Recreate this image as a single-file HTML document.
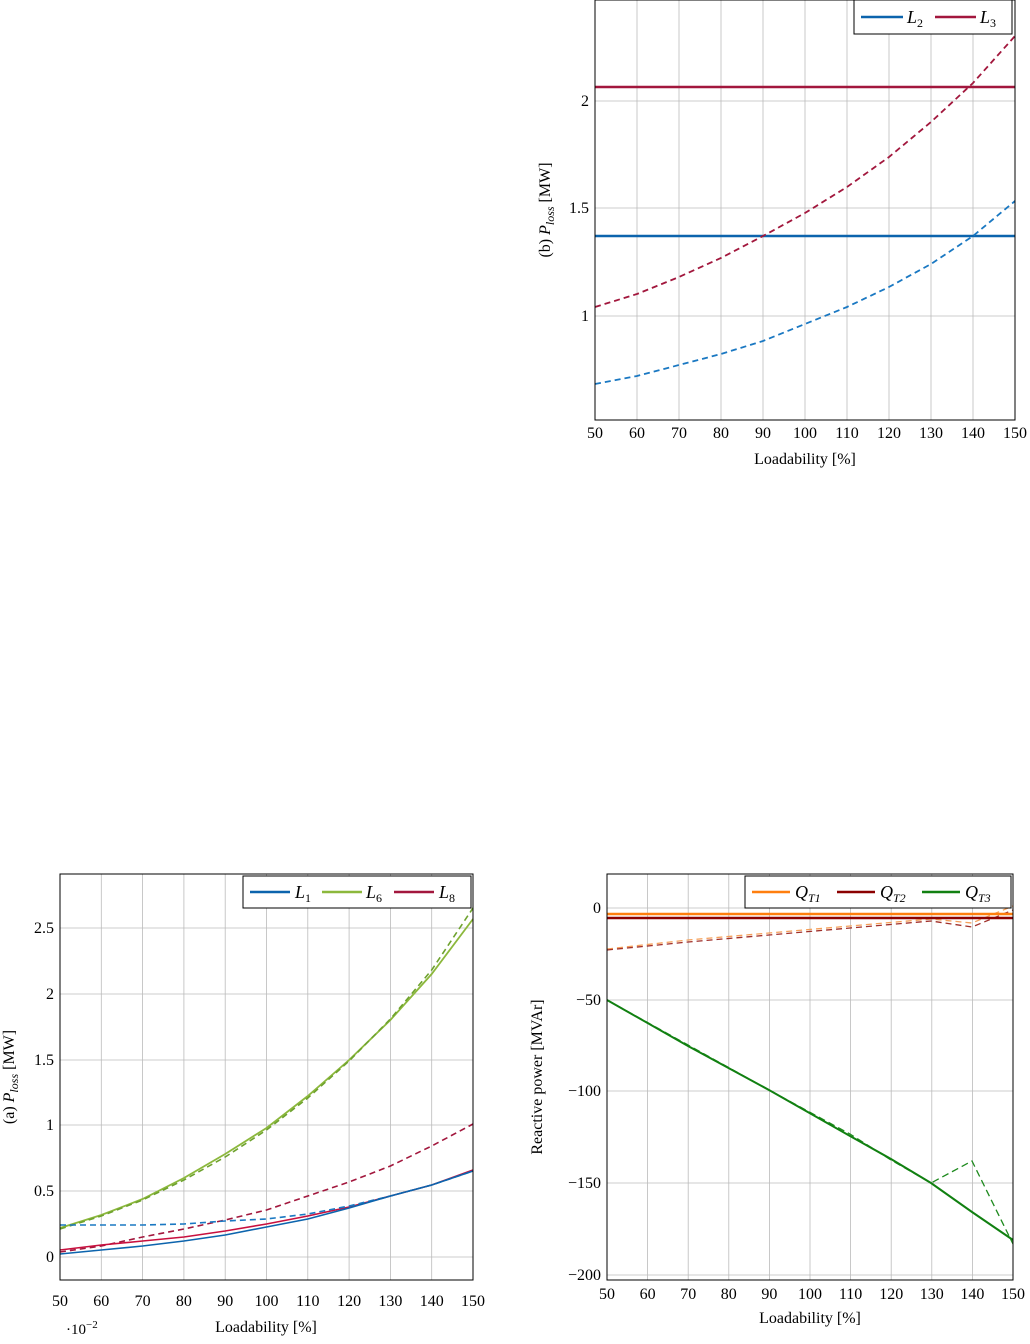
<!DOCTYPE html>
<html><head><meta charset="utf-8"><style>
body{margin:0;background:#fff;}
svg text{font-family:"Liberation Serif",serif;fill:#000;}
</style></head><body>
<svg width="1030" height="1339" viewBox="0 0 1030 1339" xmlns="http://www.w3.org/2000/svg">
<!-- Chart b -->
<g>
<g stroke="#bbb" stroke-width="0.8">
<line x1="637" y1="0" x2="637" y2="420"/><line x1="679" y1="0" x2="679" y2="420"/><line x1="721" y1="0" x2="721" y2="420"/><line x1="763" y1="0" x2="763" y2="420"/><line x1="805" y1="0" x2="805" y2="420"/><line x1="847" y1="0" x2="847" y2="420"/><line x1="889" y1="0" x2="889" y2="420"/><line x1="931" y1="0" x2="931" y2="420"/><line x1="973" y1="0" x2="973" y2="420"/>
<line x1="595" y1="316" x2="1015" y2="316"/><line x1="595" y1="208" x2="1015" y2="208"/><line x1="595" y1="101" x2="1015" y2="101"/>
</g>
<line x1="595" y1="87" x2="1015" y2="87" stroke="#a2173d" stroke-width="2.5"/>
<line x1="595" y1="236" x2="1015" y2="236" stroke="#0c64ad" stroke-width="2.5"/>
<polyline fill="none" stroke="#a2173d" stroke-width="1.8" stroke-dasharray="6,4" points="595,307 637,294 679,277 721,258 763,236 805,213 847,187 889,157 931,122 973,83 1015,36"/>
<polyline fill="none" stroke="#1a78c2" stroke-width="1.8" stroke-dasharray="6,4" points="595,384 637,376 679,365 721,354 763,341 805,324 847,307 889,287 931,264 973,236 1015,201"/>
<rect x="595" y="0" width="420" height="420" fill="none" stroke="#000" stroke-width="1"/>
<g font-size="16" text-anchor="middle">
<text x="595" y="438">50</text><text x="637" y="438">60</text><text x="679" y="438">70</text><text x="721" y="438">80</text><text x="763" y="438">90</text><text x="805" y="438">100</text><text x="847" y="438">110</text><text x="889" y="438">120</text><text x="931" y="438">130</text><text x="973" y="438">140</text><text x="1015" y="438">150</text>
<text x="805" y="464">Loadability [%]</text>
</g>
<g font-size="16" text-anchor="end"><text x="589" y="321">1</text><text x="589" y="213">1.5</text><text x="589" y="106">2</text></g>
<text transform="translate(550,210) rotate(-90)" font-size="16" text-anchor="middle">(b) <tspan font-style="italic">P</tspan><tspan font-style="italic" font-size="12" dy="4">loss</tspan><tspan dy="-4"> [MW]</tspan></text>
<rect x="854" y="0" width="158" height="34" fill="#fff" stroke="#000"/>
<line x1="861" y1="17" x2="903" y2="17" stroke="#0c64ad" stroke-width="2.5"/>
<text x="907" y="23" font-size="18" font-style="italic">L<tspan font-size="12" font-style="normal" dy="4">2</tspan></text>
<line x1="935" y1="17" x2="976" y2="17" stroke="#a2173d" stroke-width="2.5"/>
<text x="980" y="23" font-size="18" font-style="italic">L<tspan font-size="12" font-style="normal" dy="4">3</tspan></text>
</g>

<!-- Chart a -->
<g>
<g stroke="#bbb" stroke-width="0.8">
<line x1="101.3" y1="874" x2="101.3" y2="1280"/><line x1="142.6" y1="874" x2="142.6" y2="1280"/><line x1="183.9" y1="874" x2="183.9" y2="1280"/><line x1="225.2" y1="874" x2="225.2" y2="1280"/><line x1="266.5" y1="874" x2="266.5" y2="1280"/><line x1="307.8" y1="874" x2="307.8" y2="1280"/><line x1="349.1" y1="874" x2="349.1" y2="1280"/><line x1="390.4" y1="874" x2="390.4" y2="1280"/><line x1="431.7" y1="874" x2="431.7" y2="1280"/>
<line x1="60" y1="1257" x2="473" y2="1257"/><line x1="60" y1="1191" x2="473" y2="1191"/><line x1="60" y1="1125" x2="473" y2="1125"/><line x1="60" y1="1060" x2="473" y2="1060"/><line x1="60" y1="994" x2="473" y2="994"/><line x1="60" y1="928" x2="473" y2="928"/>
</g>
<polyline fill="none" stroke="#8cb83c" stroke-width="1.8" points="60,1228 101.3,1215 142.6,1199 183.9,1178 225.2,1154 266.5,1128 307.8,1096 349.1,1060 390.4,1020 431.7,974 473,919"/>
<polyline fill="none" stroke="#6ea22e" stroke-width="1.6" stroke-dasharray="6,4" points="60,1229 101.3,1216 142.6,1200 183.9,1180 225.2,1157 266.5,1130 307.8,1098 349.1,1061 390.4,1019 431.7,970 473,908"/>
<polyline fill="none" stroke="#a2173d" stroke-width="1.6" stroke-dasharray="6,4" points="60,1252 101.3,1246 142.6,1237 183.9,1229 225.2,1220 266.5,1210 307.8,1196 349.1,1182 390.4,1166 431.7,1146 473,1124"/>
<polyline fill="none" stroke="#c8103e" stroke-width="1.6" points="60,1250 101.3,1245 142.6,1241 183.9,1237 225.2,1231 266.5,1224 307.8,1216 349.1,1207 390.4,1196 431.7,1185 473,1170"/>
<polyline fill="none" stroke="#1a78c2" stroke-width="1.6" stroke-dasharray="6,4" points="60,1225 101.3,1225 142.6,1225 183.9,1224 225.2,1221 266.5,1219 307.8,1214 349.1,1206 390.4,1196 431.7,1185 473,1171"/>
<polyline fill="none" stroke="#0c64ad" stroke-width="1.6" points="60,1254 101.3,1250 142.6,1246 183.9,1241 225.2,1235 266.5,1227 307.8,1219 349.1,1208 390.4,1196 431.7,1185 473,1171"/>
<rect x="60" y="874" width="413" height="406" fill="none" stroke="#000"/>
<g font-size="16" text-anchor="middle">
<text x="60" y="1306">50</text><text x="101.3" y="1306">60</text><text x="142.6" y="1306">70</text><text x="183.9" y="1306">80</text><text x="225.2" y="1306">90</text><text x="266.5" y="1306">100</text><text x="307.8" y="1306">110</text><text x="349.1" y="1306">120</text><text x="390.4" y="1306">130</text><text x="431.7" y="1306">140</text><text x="473" y="1306">150</text>
<text x="266" y="1332">Loadability [%]</text>
</g>
<text x="66" y="1334" font-size="15">·10<tspan font-size="11" dy="-6">−2</tspan></text>
<g font-size="16" text-anchor="end"><text x="54" y="1262">0</text><text x="54" y="1196">0.5</text><text x="54" y="1130">1</text><text x="54" y="1065">1.5</text><text x="54" y="999">2</text><text x="54" y="933">2.5</text></g>
<text transform="translate(14,1077) rotate(-90)" font-size="16" text-anchor="middle">(a) <tspan font-style="italic">P</tspan><tspan font-style="italic" font-size="12" dy="4">loss</tspan><tspan dy="-4"> [MW]</tspan></text>
<rect x="243" y="876" width="228" height="32" fill="#fff" stroke="#000"/>
<line x1="250" y1="892" x2="290" y2="892" stroke="#0c64ad" stroke-width="2.5"/>
<text x="295" y="898" font-size="18" font-style="italic">L<tspan font-size="12" font-style="normal" dy="4">1</tspan></text>
<line x1="322" y1="892" x2="362" y2="892" stroke="#8cb83c" stroke-width="2.5"/>
<text x="366" y="898" font-size="18" font-style="italic">L<tspan font-size="12" font-style="normal" dy="4">6</tspan></text>
<line x1="394" y1="892" x2="434" y2="892" stroke="#a2173d" stroke-width="2.5"/>
<text x="439" y="898" font-size="18" font-style="italic">L<tspan font-size="12" font-style="normal" dy="4">8</tspan></text>
</g>

<!-- Chart c -->
<g>
<g stroke="#bbb" stroke-width="0.8">
<line x1="647.6" y1="874" x2="647.6" y2="1280"/><line x1="688.2" y1="874" x2="688.2" y2="1280"/><line x1="728.8" y1="874" x2="728.8" y2="1280"/><line x1="769.4" y1="874" x2="769.4" y2="1280"/><line x1="810" y1="874" x2="810" y2="1280"/><line x1="850.6" y1="874" x2="850.6" y2="1280"/><line x1="891.2" y1="874" x2="891.2" y2="1280"/><line x1="931.8" y1="874" x2="931.8" y2="1280"/><line x1="972.4" y1="874" x2="972.4" y2="1280"/>
<line x1="607" y1="908" x2="1013" y2="908"/><line x1="607" y1="1000" x2="1013" y2="1000"/><line x1="607" y1="1091" x2="1013" y2="1091"/><line x1="607" y1="1183" x2="1013" y2="1183"/><line x1="607" y1="1275" x2="1013" y2="1275"/>
</g>
<polyline fill="none" stroke="#f5a05a" stroke-width="1.3" stroke-dasharray="6,4" points="607,949 688,940 769,933 850,926 931,919 972,923 1013,906"/>
<polyline fill="none" stroke="#a0302a" stroke-width="1.3" stroke-dasharray="6,4" points="607,950 688,942 769,935 850,928 931,921 972,927 1013,910"/>
<line x1="607" y1="914" x2="1013" y2="914" stroke="#ff7f0e" stroke-width="2.5"/>
<line x1="607" y1="918" x2="1013" y2="918" stroke="#8b0000" stroke-width="2.5"/>
<polyline fill="none" stroke="#1e8a1e" stroke-width="1.3" stroke-dasharray="7,4" points="607,1000 688,1045 769,1090 850,1134 891,1160 931,1183 972,1161 1013,1244"/>
<polyline fill="none" stroke="#118011" stroke-width="2" points="607,1000 688,1046 769,1090 850,1136 891,1159 931,1183 972,1212 1013,1240"/>
<rect x="607" y="874" width="406" height="406" fill="none" stroke="#000"/>
<g font-size="16" text-anchor="middle">
<text x="607" y="1299">50</text><text x="647.6" y="1299">60</text><text x="688.2" y="1299">70</text><text x="728.8" y="1299">80</text><text x="769.4" y="1299">90</text><text x="810" y="1299">100</text><text x="850.6" y="1299">110</text><text x="891.2" y="1299">120</text><text x="931.8" y="1299">130</text><text x="972.4" y="1299">140</text><text x="1013" y="1299">150</text>
<text x="810" y="1323">Loadability [%]</text>
</g>
<g font-size="16" text-anchor="end"><text x="601" y="913">0</text><text x="601" y="1005">−50</text><text x="601" y="1096">−100</text><text x="601" y="1188">−150</text><text x="601" y="1280">−200</text></g>
<text transform="translate(542,1077) rotate(-90)" font-size="16" text-anchor="middle">Reactive power [MVAr]</text>
<rect x="745" y="876" width="266" height="32" fill="#fff" stroke="#000"/>
<line x1="752" y1="892" x2="790" y2="892" stroke="#ff7f0e" stroke-width="2.5"/>
<text x="795" y="898" font-size="18" font-style="italic">Q<tspan font-size="12" dy="4">T1</tspan></text>
<line x1="837" y1="892" x2="875" y2="892" stroke="#8b0000" stroke-width="2.5"/>
<text x="880" y="898" font-size="18" font-style="italic">Q<tspan font-size="12" dy="4">T2</tspan></text>
<line x1="922" y1="892" x2="960" y2="892" stroke="#118011" stroke-width="2.5"/>
<text x="965" y="898" font-size="18" font-style="italic">Q<tspan font-size="12" dy="4">T3</tspan></text>
</g>
</svg>
</body></html>
